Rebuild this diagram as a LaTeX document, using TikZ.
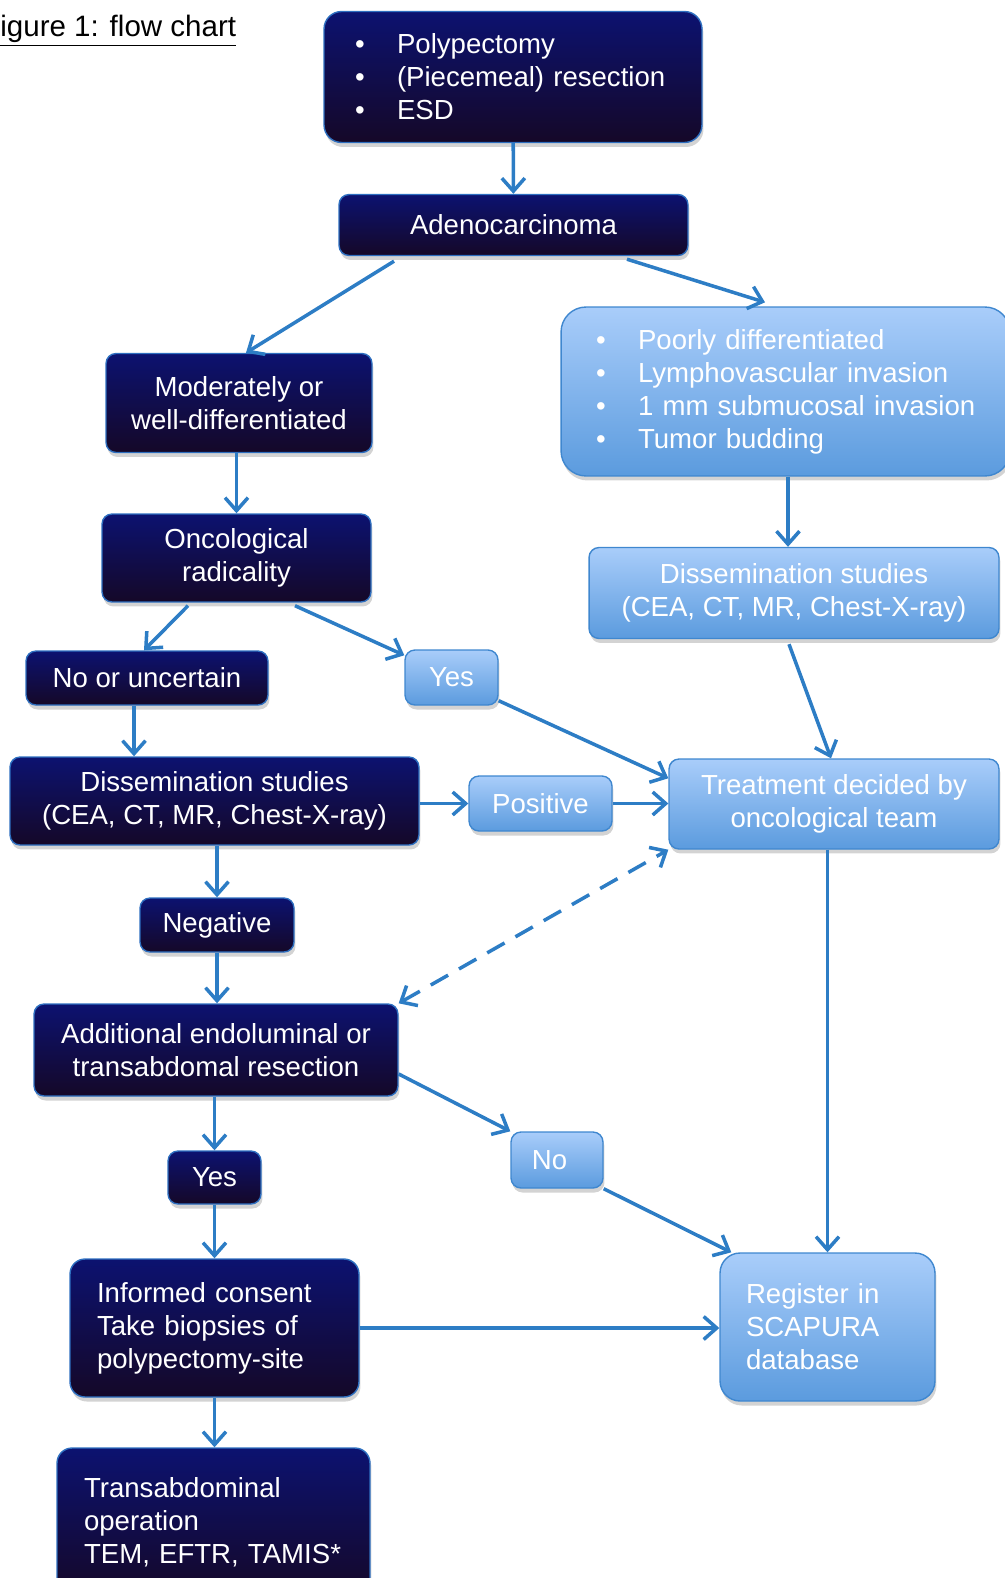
\documentclass[tikz,border=0pt]{standalone}
\usepackage{fontspec}
\setmainfont{Liberation Sans}
\usetikzlibrary{arrows.meta,shadows}
\definecolor{navytop}{HTML}{0C1270}
\definecolor{navybot}{HTML}{150828}
\definecolor{darkedge}{HTML}{2E6FC0}
\definecolor{lighttop}{HTML}{A9CDFA}
\definecolor{lightbot}{HTML}{5B9BDE}
\definecolor{lightedge}{HTML}{3F87CF}
\definecolor{arrowblue}{HTML}{2D7DC5}
\newcommand{\bul}[1]{\mbox{\makebox[0.84cm][l]{\textbullet}#1}}

\begin{document}
\begin{tikzpicture}[x=0.02cm, y=-0.02cm,
	every node/.style={font=\fontsize{15.7}{18.8}\selectfont},
	box/.style={rounded corners=0.2cm, line width=0.8pt, align=center, inner sep=0pt,
		drop shadow={opacity=0.35, shadow xshift=0.03cm, shadow yshift=-0.09cm}},
	darkbox/.style={box, draw=darkedge, top color=navytop, bottom color=navybot, text=white},
	lightbox/.style={box, draw=lightedge, top color=lighttop, bottom color=lightbot, text=white},
	link/.style={arrowblue, line width=2pt, ->},
	>={Straight Barb[length=2.6mm, width=4.6mm]}]
	\useasboundingbox (0,0) rectangle (1004,1578);
	% title
	\node[anchor=base west, inner sep=0pt, font=\fontsize{16.8}{20}\selectfont] (title) at (-18,37) {\underline{Figure 1: flow chart}};
	% left column
	\node[darkbox, rounded corners=0.35cm, minimum width=7.56cm, minimum height=2.62cm, text width=6.32cm, align=left] (proc) at (513,77) {\bul{Polypectomy}\\ \bul{(Piecemeal) resection}\\ \bul{ESD}};
	\node[darkbox, minimum width=6.98cm, minimum height=1.22cm] (adeno) at (513.5,225) {Adenocarcinoma};
	\node[darkbox, minimum width=5.32cm, minimum height=1.98cm] (moder) at (239,403) {Moderately or\\ well-differentiated};
	\node[darkbox, minimum width=5.38cm, minimum height=1.76cm] (radical) at (236.5,558) {Oncological\\ radicality};
	\node[darkbox, minimum width=4.84cm, minimum height=1.08cm] (uncert) at (147,678) {No or uncertain};
	\node[darkbox, minimum width=8.18cm, minimum height=1.76cm] (dissL) at (214.5,801) {Dissemination studies\\ (CEA, CT, MR, Chest-X-ray)};
	\node[darkbox, minimum width=3.08cm, minimum height=1.08cm] (negat) at (217,925) {Negative};
	\node[darkbox, minimum width=7.28cm, minimum height=1.84cm] (addit) at (216,1050) {Additional endoluminal or\\ transabdomal resection};
	\node[darkbox, minimum width=1.86cm, minimum height=1.06cm] (yesB) at (214.5,1177.5) {Yes};
	\node[darkbox, rounded corners=0.3cm, minimum height=2.76cm, inner xsep=0.54cm, text width=4.7cm, align=left] (consent) at (214.5,1328) {Informed consent\\ Take biopsies of\\ polypectomy-site};
	\node[darkbox, rounded corners=0.3cm, minimum height=2.96cm, inner xsep=0.54cm, text width=5.18cm, align=left] (transab) at (213.5,1522) {Transabdominal\\ operation\\ TEM, EFTR, TAMIS*};
	% right column
	\node[lightbox, rounded corners=0.5cm, minimum width=8.98cm, minimum height=3.38cm, inner xsep=0.7cm, text width=7.58cm, align=left] (risk) at (785.5,391.5) {\bul{Poorly differentiated}\\ \bul{Lymphovascular invasion}\\ \bul{1 mm submucosal invasion}\\ \bul{Tumor budding}};
	\node[lightbox, minimum width=8.2cm, minimum height=1.82cm] (dissR) at (794,593) {Dissemination studies\\ (CEA, CT, MR, Chest-X-ray)};
	\node[lightbox, minimum width=1.86cm, minimum height=1.1cm] (yesA) at (451.5,677.5) {Yes};
	\node[lightbox, minimum width=2.86cm, minimum height=1.1cm] (posit) at (540.5,803.5) {Positive};
	\node[lightbox, minimum width=6.6cm, minimum height=1.8cm] (treat) at (834,804) {Treatment decided by\\ oncological team};
	\node[lightbox, minimum width=1.84cm, minimum height=1.12cm] (noB) at (557,1160) {\hspace{-0.3cm}No};
	\node[lightbox, rounded corners=0.4cm, minimum height=2.96cm, inner xsep=0.52cm, text width=3.26cm, align=left] (regist) at (827.5,1327) {Register in\\ SCAPURA\\ database};
	% connectors
	\draw[link] (proc) -- (adeno);
	\draw[link] ([xshift=-2.39cm, yshift=-0.1cm]adeno.south) -- ([xshift=0.14cm]moder.north);
	\draw[link] ([xshift=2.27cm, yshift=-0.06cm]adeno.south) -- ([xshift=-0.41cm, yshift=0.08cm]risk.north);
	\draw[link] (moder.south -| radical.north) -- (radical.north);
	\draw[link] ([xshift=0.05cm]risk.south) -- ([xshift=0.05cm]risk.south |- dissR.north);
	\draw[link] ([xshift=-0.97cm, yshift=-0.06cm]radical.south) -- ([xshift=-0.06cm]uncert.north);
	\draw[link] ([xshift=1.17cm, yshift=-0.06cm]radical.south) -- ([yshift=-0.12cm]yesA.north west);
	\draw[link] ([xshift=-0.26cm]uncert.south) -- ([xshift=-0.26cm]uncert.south |- dissL.north);
	\draw[link] ([yshift=0.1cm]yesA.south east) -- ([yshift=-0.4cm]treat.north west);
	\draw[link] ([xshift=-0.1cm, yshift=-0.1cm]dissR.south) -- ([xshift=-0.06cm]treat.north);
	\draw[link] (dissL.east |- posit) -- (posit.west);
	\draw[link] (posit) -- (posit -| treat.west);
	\draw[link] (dissL.south -| negat) -- (negat.north);
	\draw[link, <->, dash pattern=on 0.4cm off 0.25cm] (addit.north east) -- (treat.south west);
	\draw[link] (negat.south) -- (negat.south |- addit.north);
	\draw[link] ([yshift=-0.48cm]addit.east) -- (noB.north west);
	\draw[link] (treat.south -| regist) -- (regist.north);
	\draw[link] (noB.south east) -- ([xshift=0.24cm]regist.north west);
	\draw[link] (addit.south -| yesB) -- (yesB.north);
	\draw[link] (yesB) -- (consent);
	\draw[link] (consent) -- (consent -| regist.west);
	\draw[link] (consent.south) -- (consent.south |- transab.north);
\end{tikzpicture}
\end{document}
